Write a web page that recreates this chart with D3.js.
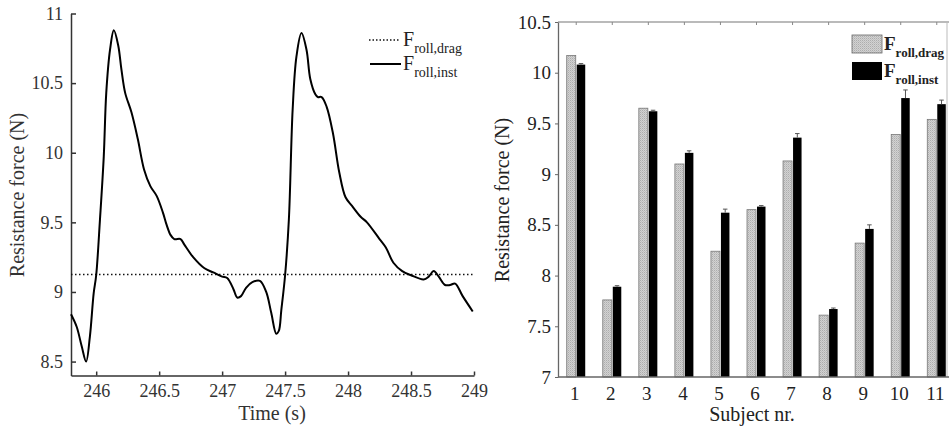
<!DOCTYPE html>
<html><head><meta charset="utf-8">
<script src="https://cdn.jsdelivr.net/npm/d3@7"></script>
<style>
body{margin:0;background:#fff;}
svg text{font-family:"Liberation Serif","DejaVu Serif",serif !important;}
</style></head>
<body><svg id="c" width="949" height="428"></svg>
<script>
// ---- Left panel data ----
const timeS = [245.80,245.845,245.885,245.92,245.95,245.98,246.00,246.03,246.06,246.08,246.11,246.14,246.175,246.20,246.23,246.28,246.33,246.38,246.43,246.48,246.53,246.56,246.59,246.62,246.67,246.70,246.77,246.86,246.93,247.00,247.04,247.09,247.12,247.15,247.19,247.24,247.30,247.35,247.39,247.43,247.45,247.47,247.50,247.53,247.56,247.59,247.63,247.67,247.70,247.74,247.76,247.79,247.83,247.88,247.93,247.98,248.03,248.10,248.15,248.25,248.30,248.36,248.43,248.50,248.60,248.64,248.68,248.72,248.77,248.81,248.85,248.91,248.99];
const forceInst = [8.84,8.75,8.61,8.50,8.68,8.99,9.12,9.52,9.97,10.43,10.74,10.88,10.77,10.60,10.43,10.29,10.10,9.88,9.76,9.69,9.57,9.48,9.41,9.38,9.38,9.34,9.25,9.17,9.14,9.11,9.10,9.02,8.96,8.97,9.03,9.07,9.08,9.00,8.85,8.70,8.72,8.87,9.12,9.52,10.31,10.69,10.86,10.74,10.53,10.42,10.40,10.40,10.33,10.14,9.86,9.68,9.62,9.54,9.50,9.38,9.32,9.21,9.15,9.12,9.09,9.11,9.15,9.11,9.05,9.05,9.06,8.97,8.86];
const forceDragMean = 9.125;
const leftXTicks = [246,246.5,247,247.5,248,248.5,249];
const leftYTicks = [8.5,9,9.5,10,10.5,11];

// ---- Right panel data ----
const subjects = [1,2,3,4,5,6,7,8,9,10,11];
const rollDrag = [10.17,7.76,9.65,9.10,8.24,8.65,9.13,7.61,8.32,9.39,9.54];
const rollInst = [10.08,7.89,9.62,9.21,8.62,8.68,9.36,7.67,8.46,9.75,9.69];
const rollInstErr = [0.01,0.01,0.01,0.02,0.035,0.01,0.04,0.01,0.04,0.08,0.04];
const rightYTicks = [7,7.5,8,8.5,9,9.5,10,10.5];

const FONT = '"Liberation Serif","DejaVu Serif",serif';
const svg = d3.select("#c");

// ================= LEFT =================
const xL = d3.scaleLinear().domain([245.8,249]).range([71,474]);
const yL = d3.scaleLinear().domain([8.4,11]).range([375.5,13.5]);
const gL = svg.append("g");

const axL = gL.append("g").attr("transform","translate(0,375.5)")
  .call(d3.axisBottom(xL).tickValues(leftXTicks).tickSizeInner(-4).tickSizeOuter(0).tickPadding(9).tickFormat(d3.format("")));
const ayL = gL.append("g").attr("transform","translate(71,0)")
  .call(d3.axisLeft(yL).tickValues(leftYTicks).tickSizeInner(-5).tickSizeOuter(0).tickPadding(8).tickFormat(d3.format("")));
[axL,ayL].forEach(a=>{
  a.attr("font-family",FONT);
  a.select(".domain").attr("stroke","#333").attr("stroke-width",1.5);
  a.selectAll(".tick line").attr("stroke","#333").attr("stroke-width",1.5);
  a.selectAll("text").attr("font-size",18).attr("fill","#333");
});

gL.append("line").attr("x1",xL(245.8)).attr("x2",xL(249)).attr("y1",yL(forceDragMean)).attr("y2",yL(forceDragMean))
  .attr("stroke","#111").attr("stroke-width",1.5).attr("stroke-dasharray","1.5,2.5");

const lineL = d3.line().x((d,i)=>xL(timeS[i])).y(d=>yL(d)).curve(d3.curveCatmullRom.alpha(0.5));
gL.append("path").datum(forceInst).attr("d",lineL).attr("fill","none").attr("stroke","#000").attr("stroke-width",2);

gL.append("text").attr("x",272).attr("y",420).attr("text-anchor","middle").attr("font-size",20).attr("fill","#333").text("Time (s)");
gL.append("text").attr("transform","translate(24,195) rotate(-90)").attr("text-anchor","middle").attr("font-size",20).attr("fill","#333").text("Resistance force (N)");

const lg = gL.append("g");
lg.append("line").attr("x1",369).attr("x2",400).attr("y1",40).attr("y2",40).attr("stroke","#111").attr("stroke-width",1.5).attr("stroke-dasharray","1.5,2");
lg.append("line").attr("x1",370).attr("x2",401).attr("y1",64).attr("y2",64).attr("stroke","#000").attr("stroke-width",2);
function legText(g,x,y,sub,size,subsize,weight){
  const t = g.append("text").attr("x",x).attr("y",y).attr("font-size",size).attr("fill","#222").attr("font-weight",weight);
  t.append("tspan").text("F");
  t.append("tspan").attr("dy",size*0.35).attr("font-size",subsize).text(sub);
}
legText(lg,403,46,"roll,drag",20,14,"normal");
legText(lg,403,70,"roll,inst",20,14,"normal");

// ================= RIGHT =================
const xR = d3.scaleLinear().domain([0.55,11.45]).range([558,951]);
const yR = d3.scaleLinear().domain([7,10.5]).range([377,22]);
const gR = svg.append("g");

const defs = svg.append("defs");
const pat = defs.append("pattern").attr("id","dots").attr("width",2).attr("height",2).attr("patternUnits","userSpaceOnUse");
pat.append("rect").attr("width",2).attr("height",2).attr("fill","#d2d2d2");
pat.append("rect").attr("width",1).attr("height",1).attr("fill","#adadad");
pat.append("rect").attr("x",1).attr("y",1).attr("width",1).attr("height",1).attr("fill","#c0c0c0");

gR.append("line").attr("x1",558).attr("x2",951).attr("y1",22).attr("y2",22).attr("stroke","#777").attr("stroke-width",1.2);
gR.append("line").attr("x1",947).attr("x2",947).attr("y1",22).attr("y2",377).attr("stroke","#bbb").attr("stroke-width",1);
gR.selectAll(".tt").data(subjects).join("line").attr("x1",d=>xR(d)+2).attr("x2",d=>xR(d)+2).attr("y1",22).attr("y2",25).attr("stroke","#888");

gR.selectAll(".bd").data(rollDrag).join("rect")
  .attr("x",(d,i)=>xR(subjects[i])-7.5).attr("width",9)
  .attr("y",d=>yR(d)).attr("height",d=>yR(7)-yR(d))
  .attr("fill","url(#dots)").attr("stroke","#777").attr("stroke-width",0.8);
gR.selectAll(".bi").data(rollInst).join("rect")
  .attr("x",(d,i)=>xR(subjects[i])+2.5).attr("width",8.5)
  .attr("y",d=>yR(d)).attr("height",d=>yR(7)-yR(d))
  .attr("fill","#000");
const eb = gR.selectAll(".eb").data(rollInst).join("g");
eb.append("line").attr("x1",(d,i)=>xR(subjects[i])+6.75).attr("x2",(d,i)=>xR(subjects[i])+6.75)
  .attr("y1",d=>yR(d)).attr("y2",(d,i)=>yR(d+rollInstErr[i])).attr("stroke","#555").attr("stroke-width",1);
eb.append("line").attr("x1",(d,i)=>xR(subjects[i])+4.5).attr("x2",(d,i)=>xR(subjects[i])+9)
  .attr("y1",(d,i)=>yR(d+rollInstErr[i])).attr("y2",(d,i)=>yR(d+rollInstErr[i])).attr("stroke","#555").attr("stroke-width",1);

const axR = gR.append("g").attr("transform","translate(0,377)")
  .call(d3.axisBottom(xR).tickValues(subjects).tickSize(0).tickPadding(10).tickFormat(d3.format("d")));
const ayR = gR.append("g").attr("transform","translate(558,0)")
  .call(d3.axisLeft(yR).tickValues(rightYTicks).tickSizeInner(3).tickSizeOuter(0).tickPadding(4).tickFormat(d3.format("")));
[axR,ayR].forEach(a=>{
  a.attr("font-family",FONT);
  a.select(".domain").attr("stroke","#666").attr("stroke-width",1.3);
  a.selectAll(".tick line").attr("stroke","#666");
  a.selectAll("text").attr("font-size",19).attr("fill","#222");
});
axR.select(".domain").attr("d","M558,0H951");

gR.append("text").attr("x",752).attr("y",421).attr("text-anchor","middle").attr("font-size",20).attr("fill","#222").text("Subject nr.");
gR.append("text").attr("transform","translate(509,200) rotate(-90)").attr("text-anchor","middle").attr("font-size",20).attr("fill","#222").text("Resistance force (N)");

const lr = gR.append("g");
lr.append("rect").attr("x",852).attr("y",35).attr("width",30).attr("height",18).attr("fill","url(#dots)").attr("stroke","#666").attr("stroke-width",0.8);
lr.append("rect").attr("x",852).attr("y",62).attr("width",30).attr("height",18).attr("fill","#000");
legText(lr,884,50,"roll,drag",19,13,"bold");
legText(lr,884,77,"roll,inst",19,13,"bold");
</script></body></html>
